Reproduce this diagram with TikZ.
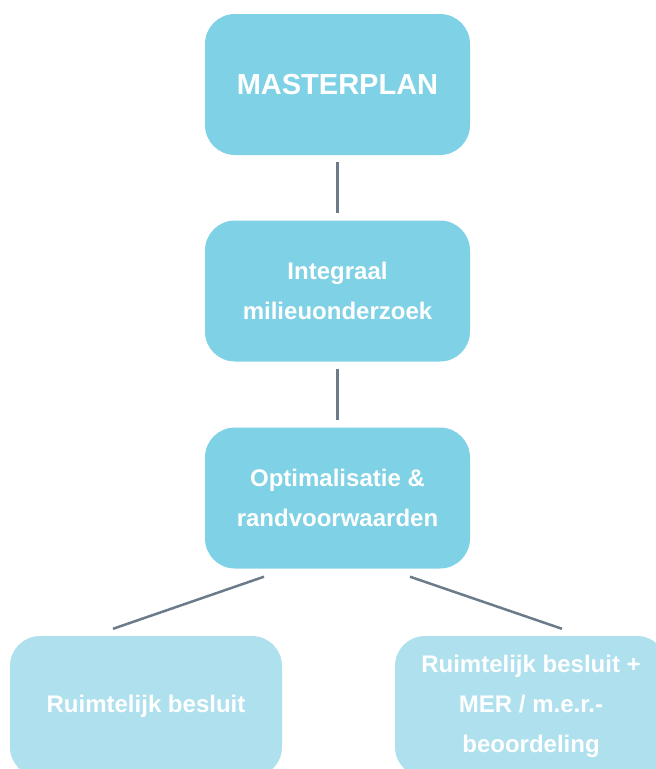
\documentclass[tikz,border=0pt]{standalone}
\usepackage{fontspec}
\setmainfont{Liberation Sans}
\usepackage{xcolor}
\usetikzlibrary{math}
\definecolor{myblue}{RGB}{127,209,229}
\definecolor{mylightblue}{RGB}{175,224,237}
\definecolor{mygray}{RGB}{107,123,137}

\tikzset{
  stage/.style={fill=myblue, rounded corners=30pt, minimum width=265pt, minimum height=141pt,
    inner sep=0pt, text=white, align=center, font=\bfseries\fontsize{24}{40}\selectfont},
  outcome/.style={stage, fill=mylightblue, minimum width=272pt},
  link/.style={draw=mygray, line width=2.5pt}
}

\begin{document}
\begin{tikzpicture}[x=1pt,y=-1pt]
\tikzmath{
\W=656;
\H=769;
\midx=337.5;
}
\useasboundingbox (0,0) rectangle (\W,\H);
\clip (0,0) rectangle (\W,\H);

% main chain
\node[stage, font=\bfseries\fontsize{29}{35}\selectfont] (master) at (\midx,84.5) {MASTERPLAN};
\node[stage] (onderzoek) at (\midx,291) {Integraal\\milieuonderzoek};
\node[stage] (optim) at (\midx,498) {Optimalisatie \&\\randvoorwaarden};

% outcomes
\node[outcome] (besluit) at (146,706.5) {Ruimtelijk besluit};
\node[outcome] (mer) at (531,706.5) {Ruimtelijk besluit +\\MER / m.e.r.-\\beoordeling};

\draw[link] ([yshift=-7pt]master.south) -- ([yshift=7pt]onderzoek.north);
\draw[link] ([yshift=-7pt]onderzoek.south) -- ([yshift=7pt]optim.north);

\coordinate (optL) at ([xshift=-73.5pt,yshift=-8pt]optim.south);
\coordinate (optR) at ([xshift=72.5pt,yshift=-8pt]optim.south);
\coordinate (besluitTop) at ([xshift=-33pt,yshift=7pt]besluit.north);
\coordinate (merTop) at ([xshift=31pt,yshift=7pt]mer.north);
\draw[link] (optL) -- (besluitTop);
\draw[link] (optR) -- (merTop);
\end{tikzpicture}
\end{document}
